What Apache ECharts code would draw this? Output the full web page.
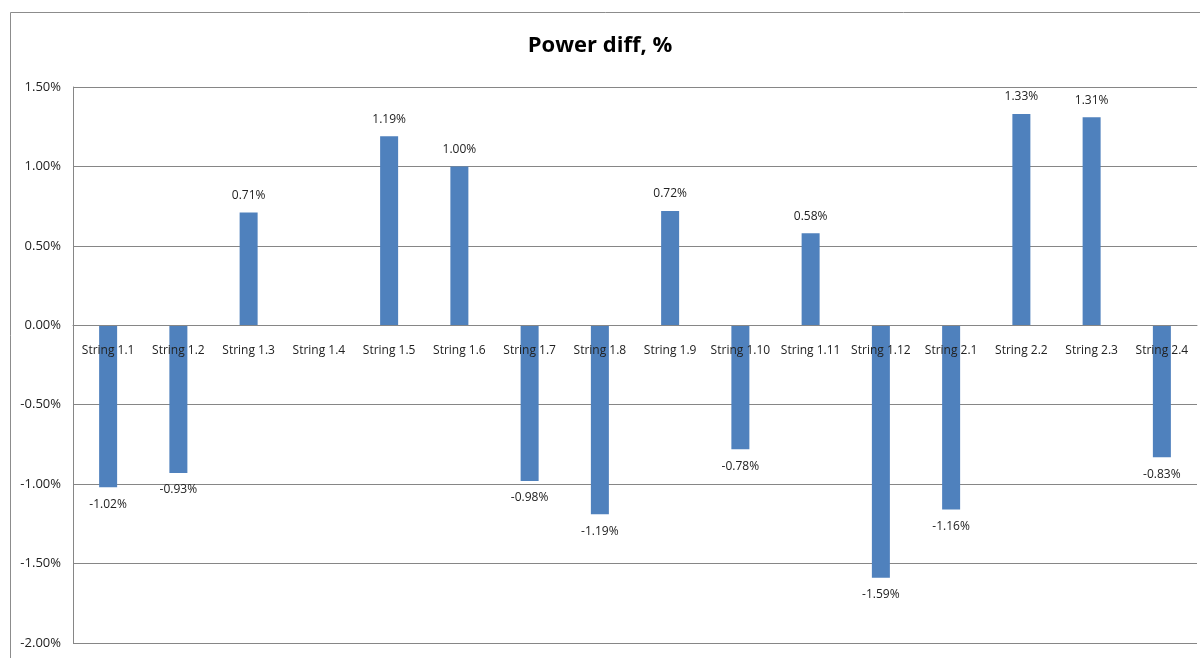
<!DOCTYPE html>
<html>
<head>
<meta charset="utf-8">
<script src="https://cdn.jsdelivr.net/npm/echarts@6/dist/echarts.min.js"></script>
<style>
  html, body { margin: 0; padding: 0; background: #fff; }
  #chart { width: 1200px; height: 658px; }
</style>
</head>
<body>
<div id="chart"></div>
<script>
// String names along the x axis
const categories = ['String 1.1', 'String 1.2', 'String 1.3', 'String 1.4', 'String 1.5', 'String 1.6',
  'String 1.7', 'String 1.8', 'String 1.9', 'String 1.10', 'String 1.11', 'String 1.12',
  'String 2.1', 'String 2.2', 'String 2.3', 'String 2.4'];
// Power difference per string, in percent (String 1.4 has no value)
const powerDiff = [-1.02, -0.93, 0.71, null, 1.19, 1.00, -0.98, -1.19, 0.72, -0.78, 0.58, -1.59,
  -1.16, 1.33, 1.31, -0.83];
// Value axis range and step, in percent
const yMin = -2.0;
const yMax = 1.5;
const yStep = 0.5;

const FONT = '"Open Sans", "Noto Sans", sans-serif';
const GRID_TOP = 87;
const GRID_BOTTOM = 15;
const HEIGHT = 658;

// Place the category axis on the zero line of the value axis
const plotH = HEIGHT - GRID_TOP - GRID_BOTTOM;
const zeroOffset = -plotH * (0 - yMin) / (yMax - yMin);

const chart = echarts.init(document.getElementById('chart'));

chart.setOption({
  animation: false,
  backgroundColor: '#ffffff',
  title: {
    text: 'Power diff, %',
    left: 'center',
    top: 30,
    textStyle: { fontFamily: FONT, fontSize: 22, fontWeight: 'bold', color: '#000' }
  },
  graphic: [{
    type: 'rect',
    left: 8, top: 10,
    shape: { width: 1200, height: 700 },
    style: { fill: 'none', stroke: '#8c8c8c', lineWidth: 1 },
    silent: true
  }],
  grid: { left: 73, right: 3, top: GRID_TOP, bottom: GRID_BOTTOM, containLabel: false, outerBoundsMode: 'none' },
  xAxis: {
    type: 'category',
    data: categories,
    position: 'bottom',
    offset: zeroOffset,
    z: 10,
    axisLine: { onZero: false, lineStyle: { color: '#868686', width: 1 } },
    axisTick: { show: false },
    axisLabel: {
      interval: 0,
      margin: 19,
      fontFamily: FONT,
      fontSize: 12,
      color: '#222'
    }
  },
  yAxis: {
    type: 'value',
    min: yMin,
    max: yMax,
    interval: yStep,
    axisLine: { show: true, lineStyle: { color: '#868686', width: 1 } },
    axisTick: { show: false },
    splitLine: { lineStyle: { color: '#868686', width: 1 } },
    axisLabel: {
      margin: 12,
      fontFamily: FONT,
      fontSize: 13,
      color: '#222',
      formatter: v => v.toFixed(2) + '%'
    }
  },
  series: [{
    type: 'bar',
    data: powerDiff,
    barWidth: 18,
    itemStyle: { color: '#4f81bd' },
    label: {
      show: true,
      position: 'outside',
      distance: 11,
      fontFamily: FONT,
      fontSize: 12,
      color: '#222',
      formatter: p => (p.value == null ? '' : p.value.toFixed(2) + '%')
    }
  }]
});
</script>
</body>
</html>
